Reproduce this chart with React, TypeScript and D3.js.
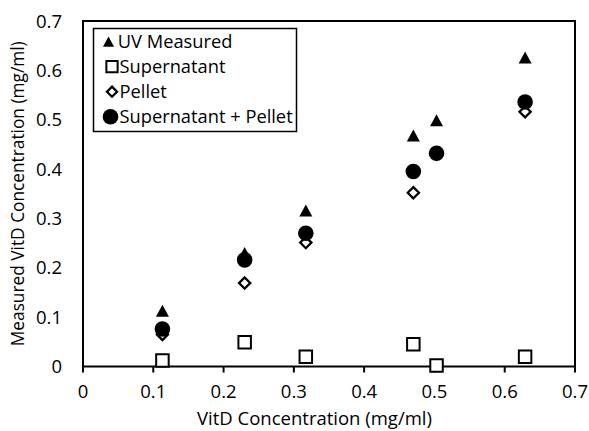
import React from "react";
import * as d3 from "d3";

const xValues = [0.113, 0.23, 0.317, 0.47, 0.503, 0.629];
const uvMeasured = [0.113, 0.23, 0.316, 0.468, 0.499, 0.626];
const supernatant = [0.012, 0.049, 0.02, 0.045, 0.002, 0.02];
const pellet = [0.065, 0.169, 0.251, 0.352, 0.43, 0.516];
const supPlusPellet = [0.076, 0.216, 0.27, 0.395, 0.432, 0.536];
const tickValues = [0, 0.1, 0.2, 0.3, 0.4, 0.5, 0.6, 0.7];
const tickLabels = ["0", "0.1", "0.2", "0.3", "0.4", "0.5", "0.6", "0.7"];
const legendLabels = ["\u00A0UV Measured", "Supernatant", "Pellet", "Supernatant + Pellet"];
const xTitle = "VitD Concentration (mg/ml)";
const yTitle = "Measured VitD Concentration (mg/ml)";

const W = 589;
const H = 431;
const L = 83;
const R = 575;
const T = 21;
const B = 366.5;
const FONT = "'Open Sans', sans-serif";

const x = d3.scaleLinear().domain([0, 0.7]).range([L, R]);
const y = d3.scaleLinear().domain([0, 0.7]).range([B, T]);

const triPath = (s: number) => {
  const h = s * 0.92;
  return `M0,${-h / 2}L${s / 2},${h / 2}L${-s / 2},${h / 2}Z`;
};
const diamondPath = (r: number) => `M0,${-r}L${r},0L0,${r}L${-r},0Z`;
const squarePath = (s: number) => `M${-s / 2},${-s / 2}h${s}v${s}h${-s}Z`;

function Marker({ kind, size }: { kind: number; size: number }) {
  if (kind === 0) return <path d={triPath(13 * size)} fill="#000" />;
  if (kind === 1)
    return <path d={squarePath(12.5 * size)} fill="#fff" stroke="#000" strokeWidth={2} />;
  if (kind === 2)
    return <path d={diamondPath(5.6 * size)} fill="#fff" stroke="#000" strokeWidth={2.3} />;
  return <circle r={7.8 * size} fill="#000" />;
}

export default function App() {
  const series = [uvMeasured, supernatant, pellet, supPlusPellet];
  return (
    <svg
      width={W}
      height={H}
      style={{ position: "absolute", left: 0, top: 0, display: "block", background: "#fff" }}
    >
      <rect x={0} y={0} width={W} height={H} fill="#fff" />
      {/* plot frame */}
      <rect x={L} y={T} width={R - L} height={B - T} fill="none" stroke="#000" strokeWidth={2} />
      {/* x ticks */}
      {tickValues.map((t, i) => (
        <g key={"xt" + i}>
          <line x1={x(t)} x2={x(t)} y1={B} y2={B + 6} stroke="#000" strokeWidth={2} />
          <text x={x(t)} y={398} textAnchor="middle" fontFamily={FONT} fontSize={18.5} fill="#000">
            {tickLabels[i]}
          </text>
        </g>
      ))}
      {/* y ticks */}
      {tickValues.map((t, i) => (
        <text
          key={"yt" + i}
          x={62}
          y={y(t) + 6.7}
          textAnchor="end"
          fontFamily={FONT}
          fontSize={18.5}
          fill="#000"
        >
          {tickLabels[i]}
        </text>
      ))}
      {/* axis titles */}
      <text x={314.5} y={425} textAnchor="middle" fontFamily={FONT} fontSize={18.5} fill="#000">
        {xTitle}
      </text>
      <text
        transform={`translate(24,${(T + B) / 2}) rotate(-90)`}
        textAnchor="middle"
        fontFamily={FONT}
        fontSize={17.3}
        fill="#000"
      >
        {yTitle}
      </text>
      {/* data */}
      {series.map((vals, k) => (
        <g key={"s" + k}>
          {vals.map((v, i) => (
            <g key={i} transform={`translate(${x(xValues[i])},${y(v)})`}>
              <Marker kind={k} size={1} />
            </g>
          ))}
        </g>
      ))}
      {/* legend */}
      <rect x={93.5} y={28.5} width={203} height={103} fill="#fff" stroke="#000" strokeWidth={1.5} />
      {legendLabels.map((lab, k) => {
        const cy = 41.7 + k * 25;
        const mx = k === 0 ? 108.5 : k === 3 ? 110.5 : 112;
        return (
          <g key={"lg" + k}>
            <g transform={`translate(${mx},${cy})`}>
              <Marker kind={k} size={k === 0 ? 0.85 : k === 3 ? 1.0 : 0.9} />
            </g>
            <text x={k === 0 ? 113 : 119.5} y={cy + 6.7} fontFamily={FONT} fontSize={18.3} fill="#000">
              {lab}
            </text>
          </g>
        );
      })}
    </svg>
  );
}
